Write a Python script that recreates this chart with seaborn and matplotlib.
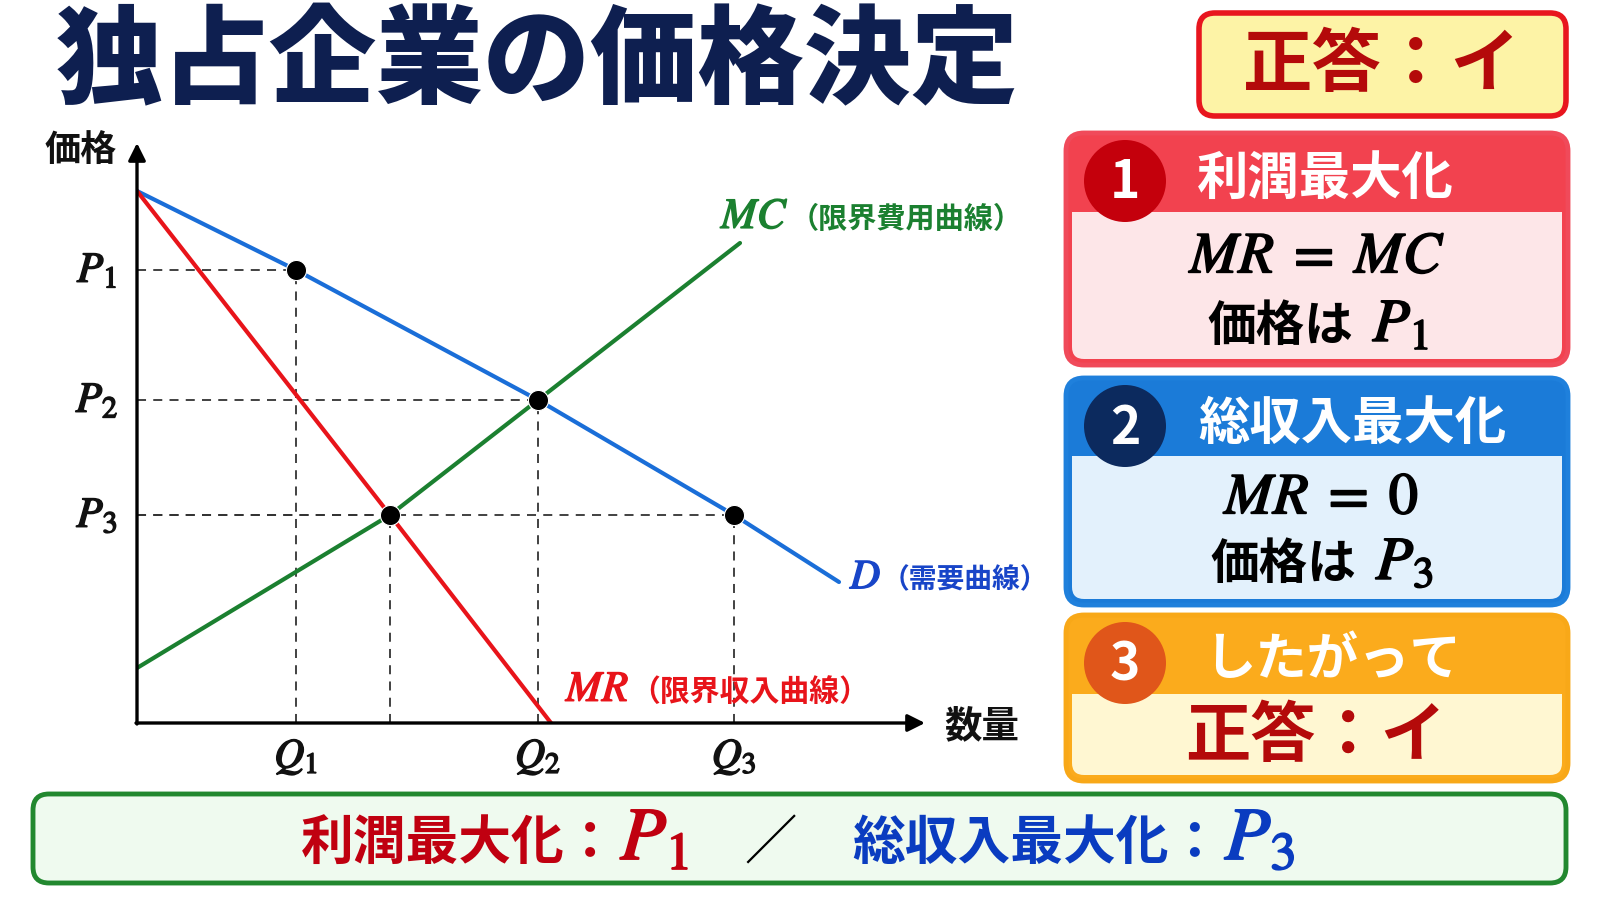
import matplotlib
matplotlib.use('Agg')
import matplotlib.pyplot as plt
import matplotlib.patheffects as pe
import seaborn as sns
from matplotlib.patches import FancyBboxPatch, Circle, Rectangle
from matplotlib.offsetbox import TextArea, HPacker, AnnotationBbox

# curves (quantity, price)
d_q = [0, 1.59, 4.01, 5.97, 7.02]
d_p = [5.32, 4.53, 3.23, 2.08, 1.41]
mr_q = [0, 2.53, 4.14]
mr_p = [5.32, 2.08, 0]
mc_q = [0, 2.53, 4.01, 6.03]
mc_p = [0.55, 2.08, 3.23, 4.80]
# marked points
pts_q = [1.59, 4.01, 2.53, 5.97]
pts_p = [4.53, 3.23, 2.08, 2.08]
p_levels = [4.53, 3.23, 2.08]
p_labels = [r'$P_{\mathit{1}}$', r'$P_{\mathit{2}}$', r'$P_{\mathit{3}}$']
q_levels = [1.59, 4.01, 5.97]
q_labels = [r'$Q_{\mathit{1}}$', r'$Q_{\mathit{2}}$', r'$Q_{\mathit{3}}$']

steps = ['1', '2', '3']
step_titles = ['利潤最大化', '総収入最大化', 'したがって']
answer = '正答：イ'

NAVY = '#0e1f50'
BLUE = '#1a6ed8'
RED = '#e8141a'
GREEN = '#1b8030'
DRED = '#b40a0a'

sns.set_theme(style='white')
plt.rcParams['font.family'] = ['Noto Sans CJK JP', 'DejaVu Sans']
plt.rcParams['mathtext.fontset'] = 'stix'


def thick(c, w=1.1):
    # heavier serif italics, as in the picture
    return [pe.withStroke(linewidth=w, foreground=c)]


fig = plt.figure(figsize=(16, 9), dpi=100, facecolor='white')
bg = fig.add_axes([0, 0, 1, 1])
bg.set_xlim(0, 1600)
bg.set_ylim(900, 0)
bg.axis('off')

ax = fig.add_axes([137/1600, 177/900, 800/1600, 600/900])
ax.set_xlim(0, 8)
ax.set_ylim(0, 6)
ax.axis('off')


def mixed(axx, x, y, parts, sep=0, align=(0.5, 0.5)):
    kids = [TextArea(s, textprops=p) for s, p in parts]
    pk = HPacker(children=kids, align='baseline', pad=0, sep=sep)
    ab = AnnotationBbox(pk, (x, y), xycoords='data', frameon=False, box_alignment=align, pad=0)
    axx.add_artist(ab)


def mtxt(size, c, w=1.1):
    return dict(fontsize=size, color=c, path_effects=thick(c, w))


# title
bg.text(56, 64, '独占企業の価格決定', fontsize=77, fontweight='heavy', color=NAVY, ha='left', va='center')

# ---- chart ----
for q, p in zip(pts_q, pts_p):
    ax.plot([0, q], [p, p], ls=(0, (5, 4)), color='#333333', lw=1.3, zorder=1)
    ax.plot([q, q], [0, p], ls=(0, (5, 4)), color='#333333', lw=1.3, zorder=1)
sns.lineplot(x=d_q, y=d_p, ax=ax, color=BLUE, lw=3, sort=False, estimator=None, zorder=2)
sns.lineplot(x=mr_q, y=mr_p, ax=ax, color=RED, lw=3, sort=False, estimator=None, zorder=2)
sns.lineplot(x=mc_q, y=mc_p, ax=ax, color=GREEN, lw=3, sort=False, estimator=None, zorder=2)
sns.scatterplot(x=pts_q, y=pts_p, ax=ax, color='black', s=210, edgecolor='white', linewidth=0.8, zorder=4)

ax.annotate('', xy=(0, 5.80), xytext=(0, -0.01), annotation_clip=False,
            arrowprops=dict(arrowstyle='-|>', color='black', lw=2.4, mutation_scale=26, shrinkA=0, shrinkB=0))
ax.annotate('', xy=(7.88, 0), xytext=(-0.01, 0), annotation_clip=False,
            arrowprops=dict(arrowstyle='-|>', color='black', lw=2.4, mutation_scale=26, shrinkA=0, shrinkB=0))
ax.text(-0.56, 5.73, '価格', fontsize=26, fontweight='bold', color='#111111', ha='center', va='center')
ax.text(8.45, -0.03, '数量', fontsize=27, fontweight='bold', color='#111111', ha='center', va='center')
for p, lab in zip(p_levels, p_labels):
    ax.text(-0.40, p, lab, ha='center', va='center', **mtxt(31, '#111111'))
for q, lab in zip(q_levels, q_labels):
    ax.text(q, -0.33, lab, ha='center', va='center', **mtxt(30, '#111111'))

mixed(ax, 5.84, 5.07, [(r'$MC$', mtxt(31, GREEN)),
                       ('（限界費用曲線）', dict(fontsize=21, fontweight='bold', color=GREEN))], align=(0, 0.5))
mixed(ax, 7.13, 1.46, [(r'$D$', mtxt(30, '#1845c8')),
                       ('（需要曲線）', dict(fontsize=20, fontweight='bold', color='#1845c8'))], align=(0, 0.5))
mixed(ax, 4.29, 0.34, [(r'$MR$', mtxt(31, RED)),
                       ('（限界収入曲線）', dict(fontsize=21.5, fontweight='bold', color=RED))], align=(0, 0.5))


# ---- right panels ----
def rbox(x, y, w, h, fc, ec, lw=3, r=16, z=1):
    bg.add_patch(FancyBboxPatch((x, y), w, h, boxstyle=f'round,pad=0,rounding_size={r}',
                                fc=fc, ec=ec, lw=lw, zorder=z))


rbox(1199, 13, 367, 103, '#fdf3a6', '#e8161e', lw=4)
bg.text(1382, 66, answer, fontsize=50, fontweight='bold', color=DRED, ha='center', va='center')

px, pw = 1066, 502
tops = [133, 378, 615]
heights = [232, 227, 166]
heads = [79, 78, 79]
head_c = ['#f2424f', '#1b7bd8', '#fbab1c']
edge_c = ['#f04a5a', '#1f80dc', '#f8a818']
body_c = ['#fde6e8', '#e3f1fc', '#fff7d2']
circ_c = ['#c4000c', '#0c2a5e', '#e0561a']
title_x = [1325, 1352, 1333]

for i in range(3):
    t, h, hh = tops[i], heights[i], heads[i]
    rbox(px, t, pw, h, head_c[i], edge_c[i], lw=3.5, r=18)
    rbox(px + 6, t + hh, pw - 12, h - hh - 6, body_c[i], 'none', lw=0, r=12, z=1.5)
    bg.add_patch(Rectangle((px + 6, t + hh), pw - 12, 20, fc=body_c[i], ec='none', zorder=1.6))
    bg.add_patch(Circle((1125, t + 48), 41, fc=circ_c[i], ec='none', zorder=3))
    bg.text(1125, t + 50, steps[i], fontsize=37, fontweight='bold', color='white', ha='center', va='center', zorder=4)
    bg.text(title_x[i], t + 45, step_titles[i], fontsize=37, fontweight='bold', color='white', ha='center', va='center', zorder=4)

bg.text(1318, 256, r'$MR\;=\;MC$', ha='center', va='center', zorder=4, **mtxt(42, 'black', 1.3))
mixed(bg, 1318, 324, [('価格は', dict(fontsize=35, fontweight='bold', color='black')),
                      (r'$P_1$', mtxt(44, 'black', 1.3))], sep=14)
bg.text(1322, 497, r'$MR\;=\;0$', ha='center', va='center', zorder=4, **mtxt(42, 'black', 1.3))
mixed(bg, 1322, 562, [('価格は', dict(fontsize=35, fontweight='bold', color='black')),
                      (r'$P_3$', mtxt(44, 'black', 1.3))], sep=14)
bg.text(1316, 737, answer, fontsize=47, fontweight='bold', color=DRED, ha='center', va='center', zorder=4)

# ---- bottom banner ----
rbox(33, 794, 1533, 89, '#effaef', '#22882f', lw=3.5, r=16)
mixed(bg, 798, 838, [('利潤最大化：', dict(fontsize=38, fontweight='bold', color='#c00010')),
                     (r'$P_1$', mtxt(54, '#c00010', 1.4)),
                     ('　／　', dict(fontsize=38, color='black')),
                     ('総収入最大化：', dict(fontsize=38, fontweight='bold', color='#0a3cc0')),
                     (r'$P_3$', mtxt(54, '#0a3cc0', 1.4))], sep=2)

fig.savefig('out.png', dpi=100, facecolor='white')
